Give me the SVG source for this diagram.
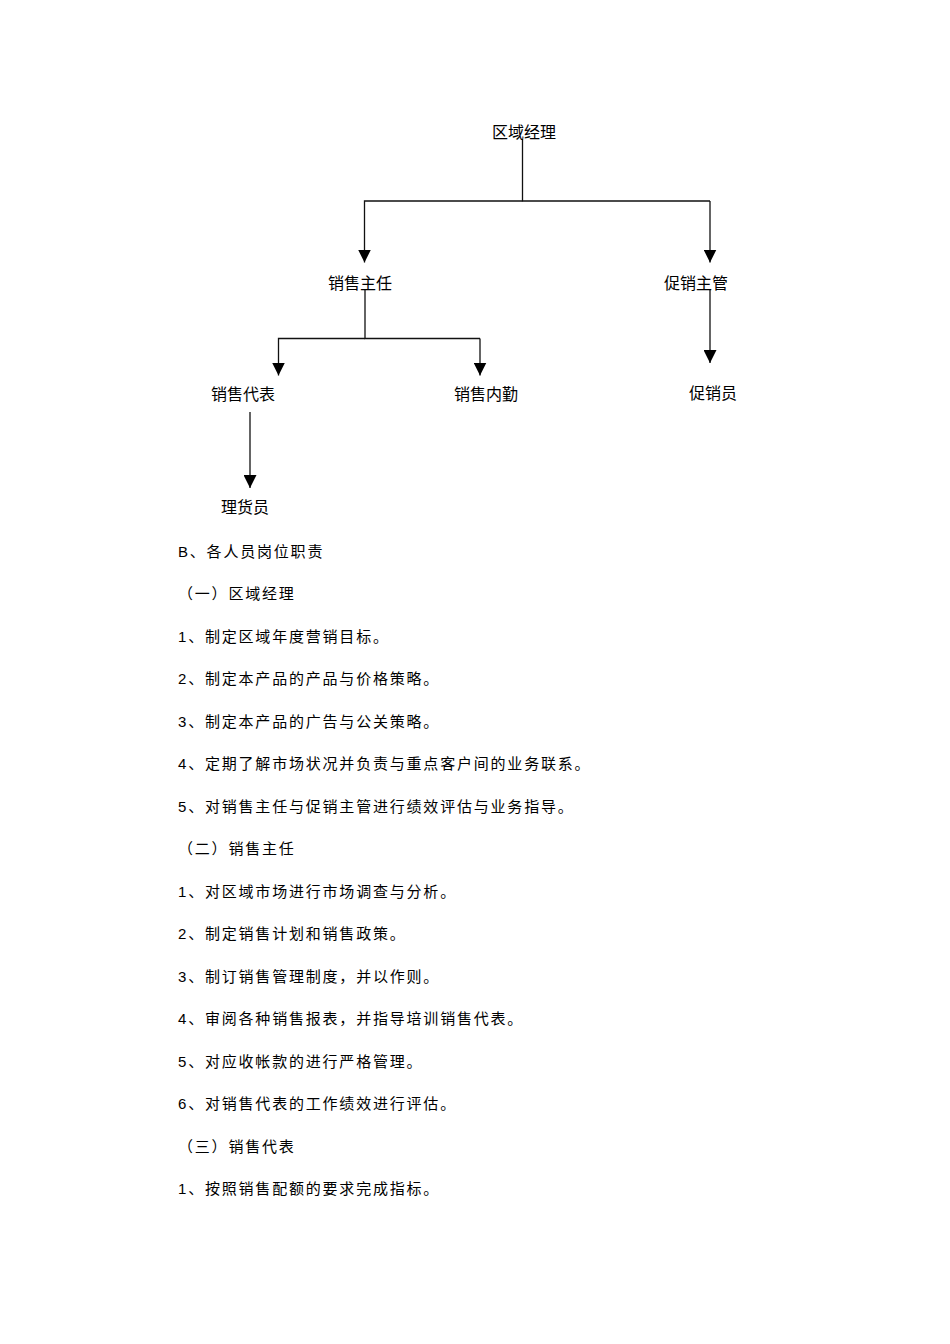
<svg xmlns="http://www.w3.org/2000/svg" width="950" height="1344" viewBox="0 0 950 1344">
<style>
.n{font-family:"Noto Sans CJK SC","Liberation Sans",sans-serif;font-size:16px;fill:#000}
.t{font-family:"Liberation Sans","Noto Sans CJK SC",sans-serif;font-size:15px;letter-spacing:1.8px;fill:#000}
.c{fill:none;stroke:#111;stroke-width:1.3}
</style>
<defs>
<marker id="ah" viewBox="0 -6.5 13 13" refX="13" refY="0" markerWidth="13" markerHeight="13" markerUnits="userSpaceOnUse" orient="auto">
<path d="M0,-6.5 L13,0 L0,6.5 z" fill="#000"/>
</marker>
</defs>
<rect width="950" height="1344" fill="#fff"/>
<g id="connectors">
<path class="c" d="M522.5,139 V201 H710"/>
<path class="c" d="M522.5,201 H364.5 V262.5" marker-end="url(#ah)"/>
<path class="c" d="M710,201 V262.5" marker-end="url(#ah)"/>
<path class="c" d="M365,289 V338.5 H480"/>
<path class="c" d="M365,338.5 H278.5 V375.5" marker-end="url(#ah)"/>
<path class="c" d="M480,338.5 V375.5" marker-end="url(#ah)"/>
<path class="c" d="M710,289 V363" marker-end="url(#ah)"/>
<path class="c" d="M250,412 V488" marker-end="url(#ah)"/>
</g>
<g id="n-quyujingli"><text class="n" x="492" y="138">区域经理</text></g>
<g id="n-xiaoshouzhuren"><text class="n" x="328" y="289">销售主任</text></g>
<g id="n-cuxiaozhuguan"><text class="n" x="664" y="289">促销主管</text></g>
<g id="n-xiaoshoudaibiao"><text class="n" x="211" y="400">销售代表</text></g>
<g id="n-xiaoshouneiqin"><text class="n" x="454" y="400">销售内勤</text></g>
<g id="n-cuxiaoyuan"><text class="n" x="689" y="399">促销员</text></g>
<g id="n-lihuoyuan"><text class="n" x="221" y="513">理货员</text></g>
<g id="body">
<text class="t" x="178" y="556.5">B、各人员岗位职责</text>
<text class="t" x="178" y="599">（一）区域经理</text>
<text class="t" x="178" y="641.5">1、制定区域年度营销目标。</text>
<text class="t" x="178" y="684">2、制定本产品的产品与价格策略。</text>
<text class="t" x="178" y="726.5">3、制定本产品的广告与公关策略。</text>
<text class="t" x="178" y="769">4、定期了解市场状况并负责与重点客户间的业务联系。</text>
<text class="t" x="178" y="811.5">5、对销售主任与促销主管进行绩效评估与业务指导。</text>
<text class="t" x="178" y="854">（二）销售主任</text>
<text class="t" x="178" y="896.5">1、对区域市场进行市场调查与分析。</text>
<text class="t" x="178" y="939">2、制定销售计划和销售政策。</text>
<text class="t" x="178" y="981.5">3、制订销售管理制度，并以作则。</text>
<text class="t" x="178" y="1024">4、审阅各种销售报表，并指导培训销售代表。</text>
<text class="t" x="178" y="1066.5">5、对应收帐款的进行严格管理。</text>
<text class="t" x="178" y="1109">6、对销售代表的工作绩效进行评估。</text>
<text class="t" x="178" y="1151.5">（三）销售代表</text>
<text class="t" x="178" y="1194">1、按照销售配额的要求完成指标。</text>
</g>
</svg>
